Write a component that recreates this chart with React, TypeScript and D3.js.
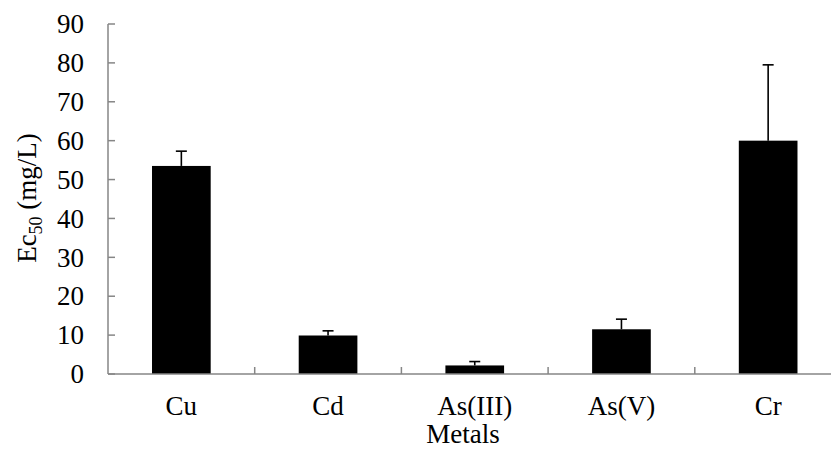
import { useEffect, useRef } from 'react'
import * as d3 from 'd3'

// EC50 values per metal, mg/L, with the error bar (upper half only)
const metals = ['Cu', 'Cd', 'As(III)', 'As(V)', 'Cr']
const ec50 = [53.5, 9.9, 2.2, 11.5, 60.0]
const errs = [3.8, 1.2, 1.0, 2.6, 19.5]
const yTicks = [0, 10, 20, 30, 40, 50, 60, 70, 80, 90]

const FONT = '"Liberation Serif", "Times New Roman", serif'
const AXIS = '#868686'
const FS = 27

export default function App() {
  const ref = useRef<SVGSVGElement>(null)

  useEffect(() => {
    const W = 831, H = 449
    const left = 108, right = 841.5, top = 24, bottom = 374

    const svg = d3.select(ref.current)
    svg.selectAll('*').remove()
    svg.attr('width', W).attr('height', H).attr('viewBox', `0 0 ${W} ${H}`)

    const x = d3.scaleBand<string>().domain(metals).range([left, right]).padding(0)
    const y = d3.scaleLinear().domain([0, 90]).range([bottom, top])
    const bw = x.bandwidth() * 0.4

    const rows = metals.map((m, i) => ({ m, v: ec50[i], e: errs[i] }))

    // bars
    svg.append('g').selectAll('rect').data(rows).join('rect')
      .attr('x', d => x(d.m)! + (x.bandwidth() - bw) / 2)
      .attr('y', d => y(d.v))
      .attr('width', bw)
      .attr('height', d => y(0) - y(d.v))
      .attr('fill', '#000')

    // error bars
    const eg = svg.append('g').attr('stroke', '#000').attr('stroke-width', 1.6)
    rows.forEach(d => {
      const cx = x(d.m)! + x.bandwidth() / 2
      eg.append('line').attr('x1', cx).attr('x2', cx).attr('y1', y(d.v)).attr('y2', y(d.v + d.e))
      eg.append('line').attr('x1', cx - 5.5).attr('x2', cx + 5.5).attr('y1', y(d.v + d.e)).attr('y2', y(d.v + d.e))
    })

    // y axis: ticks point inward
    const ya = svg.append('g')
    ya.append('line').attr('x1', left).attr('x2', left).attr('y1', y(90)).attr('y2', y(0))
      .attr('stroke', AXIS).attr('stroke-width', 1.5)
    ya.selectAll('line.t').data(yTicks).join('line').attr('class', 't')
      .attr('x1', left).attr('x2', left + 7).attr('y1', d => y(d)).attr('y2', d => y(d))
      .attr('stroke', AXIS).attr('stroke-width', 1.5)
    ya.selectAll('text').data(yTicks).join('text')
      .attr('x', 84).attr('y', d => y(d)).attr('dy', '0.34em')
      .attr('text-anchor', 'end').attr('font-family', FONT).attr('font-size', FS)
      .text(d => d)

    // x axis: boundary ticks between categories
    const xa = svg.append('g')
    xa.append('line').attr('x1', left).attr('x2', right).attr('y1', y(0)).attr('y2', y(0))
      .attr('stroke', AXIS).attr('stroke-width', 1.5)
    xa.selectAll('line.t').data(metals.slice(1)).join('line').attr('class', 't')
      .attr('x1', d => x(d)!).attr('x2', d => x(d)!).attr('y1', y(0)).attr('y2', y(0) - 7)
      .attr('stroke', AXIS).attr('stroke-width', 1.5)
    xa.selectAll('text').data(metals).join('text')
      .attr('x', d => x(d)! + x.bandwidth() / 2).attr('y', 415)
      .attr('text-anchor', 'middle').attr('font-family', FONT).attr('font-size', FS)
      .text(d => d)

    svg.append('text').attr('x', 463).attr('y', 443)
      .attr('text-anchor', 'middle').attr('font-family', FONT).attr('font-size', FS)
      .text('Metals')

    const yl = svg.append('text')
      .attr('transform', 'translate(36,198) rotate(-90)')
      .attr('text-anchor', 'middle').attr('font-family', FONT).attr('font-size', FS)
    yl.append('tspan').text('Ec')
    yl.append('tspan').attr('font-size', 18).attr('dy', 6).text('50')
    yl.append('tspan').attr('dy', -6).text(' (mg/L)')
  }, [])

  return <svg ref={ref} style={{ position: 'absolute', left: 0, top: 0, background: '#fff' }} />
}
